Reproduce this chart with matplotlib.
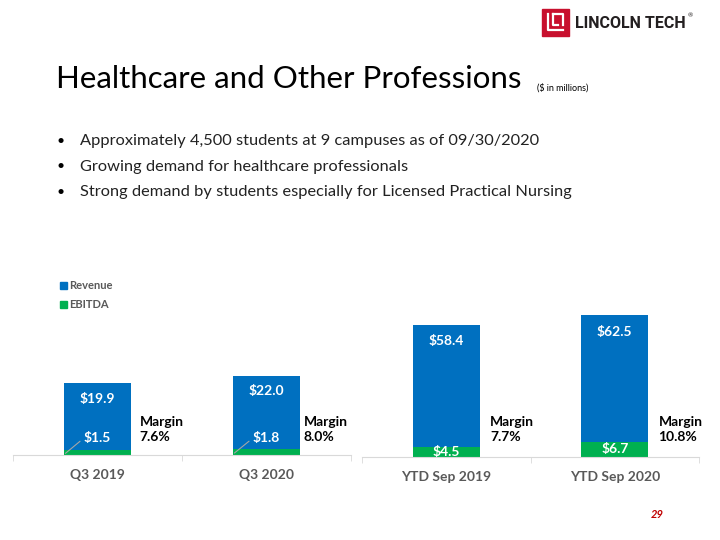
import matplotlib.pyplot as plt
from matplotlib.patches import Rectangle, Patch
from matplotlib.lines import Line2D

# data ($ in millions)
quarters = ["Q3 2019", "Q3 2020"]
q_revenue = [19.9, 22.0]
q_ebitda = [1.5, 1.8]
q_margin = ["7.6%", "8.0%"]

ytd = ["YTD Sep 2019", "YTD Sep 2020"]
ytd_revenue = [58.4, 62.5]
ytd_ebitda = [4.5, 6.7]
ytd_margin = ["7.7%", "10.8%"]

bullets = [
    "Approximately 4,500 students at 9 campuses as of 09/30/2020",
    "Growing demand for healthcare professionals",
    "Strong demand by students especially for Licensed Practical Nursing",
]

BLUE = "#0070C0"
GREEN = "#00B050"
GRAY = "#595959"
AXIS = "#D9D9D9"

plt.rcParams['font.family'] = ['Lato', 'DejaVu Sans']

W, H = 720, 540
fig = plt.figure(figsize=(7.2, 5.4), dpi=100)


def px(x, y):
    # pixel coords (top-left origin) -> figure fraction
    return x / W, 1 - y / H


def ftext(x, y, s, **kw):
    fx, fy = px(x, y)
    fig.text(fx, fy, s, **kw)


# logo
lx, ly = px(542, 36)
fig.patches.append(Rectangle((lx, ly), 27 / W, 27 / H, transform=fig.transFigure,
                             color="#C8102E", zorder=5))
for xs, ys in [([548, 548, 563], [14, 30, 30]), ([553, 563, 563], [14, 14, 25]),
               ([553, 553, 558], [14, 25, 25])]:
    fig.lines.append(Line2D([x / W for x in xs], [1 - y / H for y in ys],
                            transform=fig.transFigure, color="white", lw=1.6, zorder=6))
ftext(575, 23, "LINCOLN TECH", fontsize=11.5, fontweight="bold", color="#231F20",
      va="center", ha="left", family=["Roboto", "DejaVu Sans"])
ftext(688, 16, "®", fontsize=4.5, color="#231F20", va="center")

# title and bullets
ftext(56, 79, "Healthcare and Other Professions", fontsize=22.5, color="black", va="center")
ftext(537, 88, "($ in millions)", fontsize=6.5, color="black", va="center")
for i, b in enumerate(bullets):
    y = 141 + i * 25.5
    ftext(57, y, "•", fontsize=10, va="center")
    ftext(80, y, b, fontsize=11.8, va="center", color="#222222")

ftext(657, 515, "29", fontsize=8, color="#C00000", style="italic", fontweight="bold",
      va="center", ha="center")


def setup_axes(ax, cats):
    for s in ["top", "left", "right"]:
        ax.spines[s].set_visible(False)
    ax.spines["bottom"].set_color(AXIS)
    ax.set_xlim(-0.5, len(cats) - 0.5)
    ax.set_xticks(range(len(cats)))
    ax.set_xticklabels(cats, fontsize=10, fontweight="bold", color=GRAY)
    ax.tick_params(axis="x", length=0, pad=10)
    ax.set_xticks([i - 0.5 for i in range(len(cats) + 1)], minor=True)
    ax.tick_params(axis="x", which="minor", length=4, color=AXIS)
    ax.set_yticks([])


# left chart (quarter)
ax1 = fig.add_axes([13 / W, 85 / H, 338 / W, 46 * 3.6 / H])
ax1.set_ylim(0, 46)
setup_axes(ax1, quarters)
x1 = range(len(quarters))
ax1.bar(x1, q_revenue, width=0.4, color=BLUE, label="Revenue")
ax1.bar(x1, q_ebitda, width=0.4, color=GREEN, label="EBITDA")
for i in x1:
    ax1.annotate(f"${q_revenue[i]:.1f}", (i, q_revenue[i]), xytext=(0, -11),
                 textcoords="offset points", ha="center", va="center",
                 color="white", fontweight="bold", fontsize=10)
    ax1.annotate(f"${q_ebitda[i]:.1f}", xy=(i - 0.19, q_ebitda[i] * 0.3),
                 xytext=(i, 4.7), ha="center", va="center",
                 color="white", fontweight="bold", fontsize=10,
                 arrowprops=dict(arrowstyle="-", color="#A6A6A6", lw=0.8,
                                 relpos=(0, 0.5), shrinkA=1, shrinkB=0))
    ax1.annotate(f"Margin\n{q_margin[i]}", (i + 0.25 - 0.03 * i, 0), xytext=(0, 12),
                 textcoords="offset pixels", ha="left", va="bottom",
                 fontweight="bold", fontsize=10, linespacing=1.3)

ax1.legend(handles=[Patch(color=BLUE, label="Revenue"), Patch(color=GREEN, label="EBITDA")],
           loc="upper left", bbox_to_anchor=(px(50, 0)[0], px(0, 270)[1]),
           bbox_transform=fig.transFigure, frameon=False, handlelength=0.6,
           handleheight=0.6, handletextpad=0.2, labelspacing=0.75,
           prop=dict(size=8, weight="bold"), labelcolor=GRAY)

# right chart (YTD)
ax2 = fig.add_axes([362 / W, 83.3 / H, 337 / W, 70 * 2.26 / H])
ax2.set_ylim(0, 70)
setup_axes(ax2, ytd)
x2 = range(len(ytd))
ax2.bar(x2, ytd_revenue, width=0.4, color=BLUE)
ax2.bar(x2, ytd_ebitda, width=0.4, color=GREEN)
for i in x2:
    ax2.annotate(f"${ytd_revenue[i]:.1f}", (i, ytd_revenue[i]), xytext=(0, -12),
                 textcoords="offset points", ha="center", va="center",
                 color="white", fontweight="bold", fontsize=10)
    ax2.text(i, ytd_ebitda[i] / 2, f"${ytd_ebitda[i]:.1f}", ha="center", va="center",
             color="white", fontweight="bold", fontsize=10)
    ax2.annotate(f"Margin\n{ytd_margin[i]}", (i + 0.26, 0), xytext=(0, 14),
                 textcoords="offset pixels", ha="left", va="bottom",
                 fontweight="bold", fontsize=10, linespacing=1.3)

fig.savefig("out.png", dpi=100)
